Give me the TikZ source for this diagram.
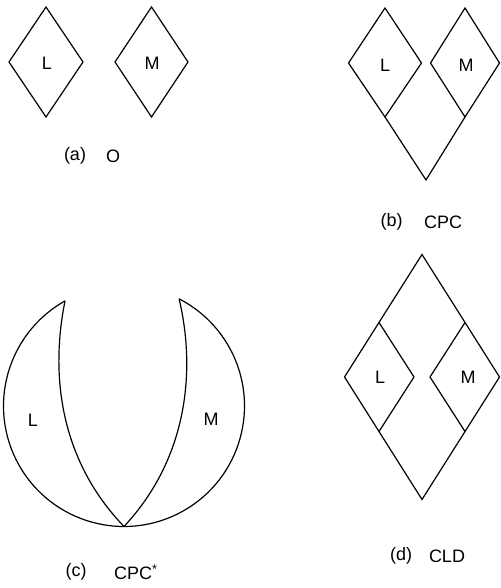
\documentclass[tikz,border=0pt]{standalone}
\usepackage{fontspec}
\setmainfont{Liberation Sans}
\begin{document}
\begin{tikzpicture}[x=1pt,y=1pt,
  edge/.style={line width=1.2pt,line join=miter},
  lbl/.style={font=\fontsize{18}{21}\selectfont,inner sep=0pt}]
\useasboundingbox (0,0) rectangle (500,588);
% ---------- (a) ----------
\coordinate (aLt) at (46,581); \coordinate (aLl) at (9,526);
\coordinate (aLr) at (83,526); \coordinate (aLb) at (46,471);
\coordinate (aMt) at (151.5,581); \coordinate (aMl) at (115,526);
\coordinate (aMr) at (188,526); \coordinate (aMb) at (151.5,471);
\draw[edge] (aLt) -- (aLr) -- (aLb) -- (aLl) -- cycle;
\draw[edge] (aMt) -- (aMr) -- (aMb) -- (aMl) -- cycle;
\node[lbl] (aL) at (47,525) {L};
\node[lbl] (aM) at (152,525) {M};
\node[lbl] (aCap) at (75,432) {(a)};
\node[lbl] (aName) at (113,432) {O};
% ---------- (b) ----------
\coordinate (bLt) at (385,580); \coordinate (bLl) at (348.5,525);
\coordinate (bLr) at (421.5,525); \coordinate (bLb) at (385,471);
\coordinate (bMt) at (465,580); \coordinate (bMl) at (430.5,525);
\coordinate (bMr) at (499.5,525); \coordinate (bMb) at (465,471);
\coordinate (bV) at (426,408);
\draw[edge] (bLt) -- (bLr) -- (bLb) -- (bLl) -- cycle;
\draw[edge] (bMt) -- (bMr) -- (bMb) -- (bMl) -- cycle;
\draw[edge] (bLb) -- (bV) -- (bMb);
\node[lbl] (bL) at (385,523) {L};
\node[lbl] (bM) at (466,523) {M};
\node[lbl] (bCap) at (391.5,366) {(b)};
\node[lbl] (bName) at (443,366) {CPC};
% ---------- (c) ----------
\coordinate (cC) at (124,182);
\coordinate (cLt) at ([shift={(119.3:120.5)}]cC);
\coordinate (cRt) at ([shift={(62.8:120.5)}]cC);
\coordinate (cB) at ([shift={(270:120.5)}]cC);
\draw[edge] (cLt) arc[start angle=119.3,end angle=422.8,radius=120.5];
\draw[edge] (cLt) .. controls (50,213) and (60,128) .. (cB);
\draw[edge] (cRt) .. controls (196,218) and (188,130) .. (cB);
\node[lbl] (cL) at (33,168) {L};
\node[lbl] (cM) at (211,169) {M};
\node[lbl] (cCap) at (76,16) {(c)};
\node[lbl,anchor=west] (cName) at (114,16) {CPC\textsuperscript{*}};
% ---------- (d) ----------
\coordinate (dT) at (422,333.5); \coordinate (dL) at (344.5,211);
\coordinate (dR) at (499.5,211); \coordinate (dB) at (422,88.5);
\coordinate (dLt) at (379,265.5); \coordinate (dLr) at (414,211);
\coordinate (dLb) at (379,156.5);
\coordinate (dMt) at (465,265.5); \coordinate (dMl) at (430,211);
\coordinate (dMb) at (465,156.5);
\draw[edge] (dT) -- (dR) -- (dB) -- (dL) -- cycle;
\draw[edge] (dLt) -- (dLr) -- (dLb);
\draw[edge] (dMt) -- (dMl) -- (dMb);
\node[lbl] (dLlab) at (380,211) {L};
\node[lbl] (dMlab) at (468,211) {M};
\node[lbl] (dCap) at (401,32) {(d)};
\node[lbl] (dName) at (447,32) {CLD};
\end{tikzpicture}
\end{document}
